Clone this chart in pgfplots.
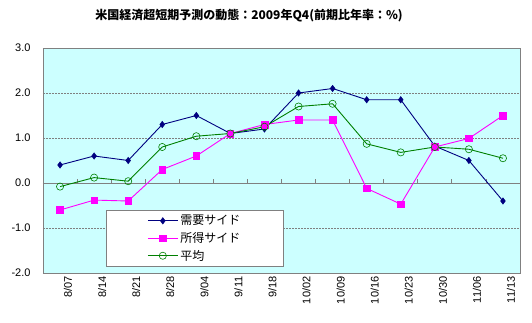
\documentclass[border=0pt]{standalone}
\usepackage{fontspec}
\setmainfont{Liberation Sans}
\newfontfamily\jp{Noto Sans CJK JP}
\usepackage{pgfplots}
\pgfplotsset{compat=1.18}
\definecolor{bgcyan}{HTML}{CCFFFF}
\definecolor{dnavy}{HTML}{000080}
\definecolor{mag}{HTML}{FF00FF}
\definecolor{grn}{HTML}{008000}
\definecolor{axgray}{HTML}{808080}
\begin{document}
\begin{tikzpicture}[x=1pt,y=1pt]
\path[use as bounding box, fill=white] (0,0) rectangle (532,323);
\node[font=\jp\bfseries\fontsize{12}{14}\selectfont] at (249,307) {米国経済超短期予測の動態：2009年Q4(前期比年率：\%)};
\begin{axis}[at={(43pt,50pt)}, anchor=south west, scale only axis, width=477pt, height=225pt,
  xmin=-0.5, xmax=13.5, ymin=-2, ymax=3, ytick={-2,-1,0,1,2,3},
  xtick={0,...,13},
  xticklabels={8/07,8/14,8/21,8/28,9/04,9/11,9/18,10/02,10/09,10/16,10/23,10/30,11/06,11/13},
  major tick length=0pt,
  xticklabel style={rotate=90, anchor=east, font=\fontsize{11}{13}\selectfont, yshift=-8pt},
  yticklabel style={font=\fontsize{11}{13}\selectfont, xshift=-9pt,
    /pgf/number format/fixed, /pgf/number format/fixed zerofill, /pgf/number format/precision=1},
  /pgf/number format/assume math mode=true,
  axis background/.style={fill=bgcyan},
  axis line style={axgray, line width=0.8pt},
  ymajorgrids, grid style={dash pattern=on 2pt off 1pt, gray, line width=0.5pt},
  legend style={at={(0.132,0.027)}, anchor=south west, draw=axgray, line width=0.8pt, fill=white,
    font=\jp\fontsize{12}{14}\selectfont, inner xsep=41pt, inner ysep=3pt, row sep=2pt, cells={anchor=west}},
  legend image code/.code={\draw[mark repeat=2,mark phase=2,#1] plot coordinates {(0pt,0pt) (15pt,0pt) (30pt,0pt)};},
]
\draw[axgray, line width=0.8pt] (axis cs:-0.5,0) -- (axis cs:13.5,0);
\pgfplotsinvokeforeach{0.5,1.5,...,12.5}{\draw[axgray, line width=0.8pt] (axis cs:#1,0) -- ++(0pt,4pt);}
\addplot[color=dnavy, line width=0.9pt, mark=diamond*, mark size=3.2pt, mark options={fill=dnavy, line width=0.5pt}] coordinates {
(0,0.4) (1,0.6) (2,0.5) (3,1.3) (4,1.5) (5,1.1) (6,1.2) (7,2.0) (8,2.1) (9,1.85) (10,1.85) (11,0.82) (12,0.5) (13,-0.4)};
\addlegendentry{需要サイド}
\addplot[color=mag, line width=0.9pt, mark=square*, mark size=3.3pt, mark options={fill=mag, line width=0.5pt}] coordinates {
(0,-0.6) (1,-0.38) (2,-0.4) (3,0.3) (4,0.6) (5,1.1) (6,1.3) (7,1.4) (8,1.4) (9,-0.12) (10,-0.47) (11,0.8) (12,0.99) (13,1.5)};
\addlegendentry{所得サイド}
\addplot[color=grn, line width=0.9pt, mark=o, mark size=3.6pt, mark options={line width=0.6pt}] coordinates {
(0,-0.08) (1,0.12) (2,0.04) (3,0.8) (4,1.04) (5,1.1) (6,1.25) (7,1.7) (8,1.76) (9,0.87) (10,0.68) (11,0.8) (12,0.75) (13,0.55)};
\addlegendentry{平均}
\end{axis}
\end{tikzpicture}
\end{document}
